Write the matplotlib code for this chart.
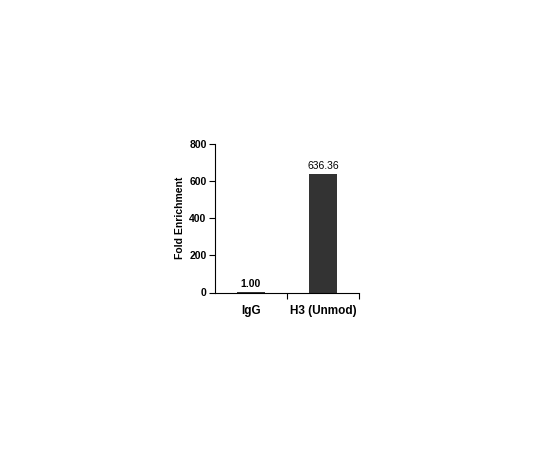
import matplotlib
matplotlib.use('Agg')
import matplotlib.pyplot as plt

plt.rcParams['font.family'] = ['Liberation Sans', 'DejaVu Sans']

categories = ['IgG', 'H3 (Unmod)']
fold_enrichment = [1.00, 636.36]
value_labels = ['1.00', '636.36']
label_bold = ['bold', 'normal']
y_ticks = [0, 200, 400, 600, 800]

fig = plt.figure(figsize=(5.4, 4.5), dpi=100)
ax = fig.add_axes([0.398, 0.350, 0.267, 0.330])

x = list(range(1, len(categories) + 1))
ax.bar(x, fold_enrichment, width=0.4, color='#333333', edgecolor='none')

for xi, v, lab, w in zip(x, fold_enrichment, value_labels, label_bold):
    ax.text(xi, v + 18, lab, ha='center', va='bottom', fontsize=7.5, fontweight=w)

ax.set_xlim(0.5, len(categories) + 0.5)
ax.set_ylim(0, 800)
ax.set_yticks(y_ticks)
ax.set_yticklabels([str(t) for t in y_ticks], fontsize=7.5, fontweight='bold')

# ticks between categories like excel
ax.set_xticks([1.5, 2.5])
ax.set_xticklabels([])
ax.tick_params(axis='x', direction='out', length=4, width=0.8)
ax.tick_params(axis='y', direction='out', length=4, width=0.8, pad=2)
for xi, cat in zip(x, categories):
    ax.text(xi, -0.085, cat, transform=ax.get_xaxis_transform(), ha='center', va='top',
            fontsize=8.5, fontweight='bold')

ax.spines['top'].set_visible(False)
ax.spines['right'].set_visible(False)
ax.spines['left'].set_linewidth(0.8)
ax.spines['bottom'].set_linewidth(0.8)

ax.set_ylabel('Fold Enrichment', fontsize=7.5, fontweight='bold', labelpad=3)

fig.savefig('out.png', dpi=100)
